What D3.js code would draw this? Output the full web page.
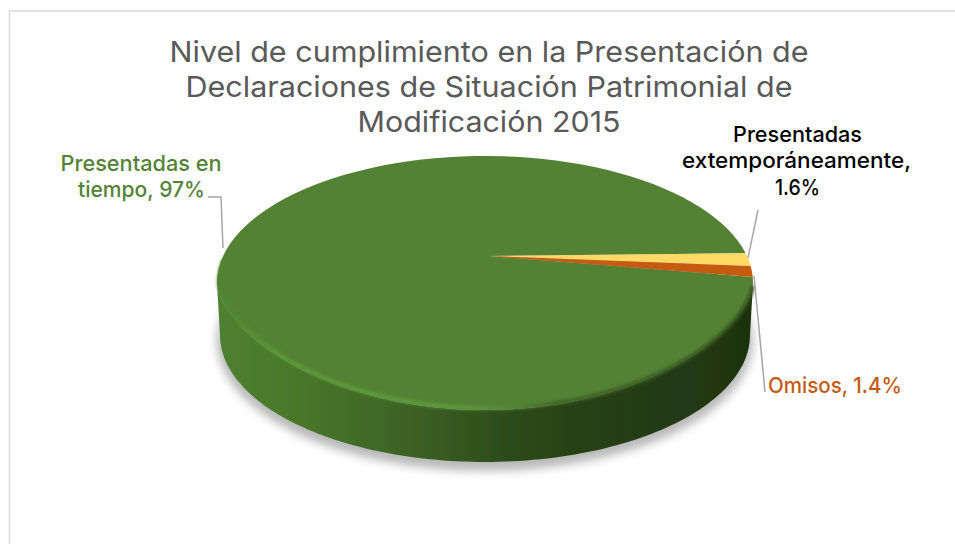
<!DOCTYPE html>
<html><head><meta charset="utf-8">
<script src="https://cdn.jsdelivr.net/npm/d3@7/dist/d3.min.js"></script>
<style>html,body{margin:0;padding:0;background:#fff;overflow:hidden}svg{display:block}text{font-family:Inter,Lato,sans-serif}</style>
</head><body>
<svg id="c" width="955" height="544"></svg>
<script>
const categories = ["Presentadas extemporáneamente", "Omisos", "Presentadas en tiempo"];
const values = [1.6, 1.4, 97];
const sliceColors = ["#ffd966", "#c55a11", "#548235"];
const titleLines = ["Nivel de cumplimiento en la Presentación de", "Declaraciones de Situación Patrimonial de", "Modificación 2015"];
const labelLinesGreen = ["Presentadas en", "tiempo, 97%"];
const labelLinesYellow = ["Presentadas", "extemporáneamente,", "1.6%"];
const labelLinesOrange = ["Omisos, 1.4%"];

const svg = d3.select("#c");
const defs = svg.append("defs");
const TAU = 2 * Math.PI;

// geometry of the tilted pie; the near half of the top face is flattened by perspective
const cx = 485, cy = 283, rx = 268, ry = 127, depth = 52, bottomRx = 265, nearPower = 1.22;
const apex = [489, 256];
const rim = a => {
  const c = Math.cos(a);
  return [cx + rx * Math.sin(a), cy - ry * (c < 0 ? -Math.pow(-c, nearPower) : c)];
};
const rimB = a => [cx + bottomRx * Math.sin(a), cy + depth - ry * Math.cos(a)];
const line = d3.line();
const sample = (a0, a1, f) => d3.range(0, 121).map(i => f(a0 + (a1 - a0) * i / 120));

function blur(id, s) {
  defs.append("filter").attr("id", id).attr("x", "-10%").attr("y", "-20%").attr("width", "120%").attr("height", "140%")
    .append("feGaussianBlur").attr("stdDeviation", s);
}
blur("shadow", 5); blur("soft", 1.4); blur("edge", 0.5);

function grad(id, stops) {
  const g = defs.append("linearGradient").attr("id", id).attr("gradientUnits", "userSpaceOnUse")
    .attr("x1", cx - rx).attr("x2", cx + rx).attr("y1", 0).attr("y2", 0);
  stops.forEach(([o, c]) => g.append("stop").attr("offset", o).attr("stop-color", c));
}
grad("side", [[0, "#4f8030"], [0.12, "#4a7a2c"], [0.28, "#426a27"], [0.42, "#375b21"], [0.55, "#2c4a1a"], [0.7, "#263f15"], [0.88, "#223912"], [1, "#1e3210"]]);
grad("bevel", [[0, "#4f8230"], [0.12, "#5c9a38"], [0.45, "#5f9a40"], [0.54, "#56883a"], [0.64, "#3f6327"], [1, "#37571f"]]);

// frame
svg.append("path").attr("d", line([[9.5, 544], [9.5, 11], [955, 11]])).attr("fill", "none").attr("stroke", "#d9d9d9").attr("stroke-width", 1.5);

// shadow
svg.append("ellipse").attr("cx", cx).attr("cy", cy + depth + 6).attr("rx", bottomRx + 3).attr("ry", ry + 3)
  .attr("fill", "#b8b8b8").attr("filter", "url(#shadow)");

// side wall
const sideTop = sample(TAU / 4, TAU * 3 / 4, rim);
const sideBot = sample(TAU * 3 / 4, TAU / 4, rimB);
svg.append("path").attr("d", line(sideTop.concat(sideBot)) + "Z").attr("fill", "url(#side)").attr("filter", "url(#edge)");

// top face
const startDeg = 76.5;
const pie = d3.pie().sort(null).startAngle(startDeg * Math.PI / 180).endAngle(startDeg * Math.PI / 180 + TAU);
const arcs = pie(values);
const order = [2, 0, 1];
svg.append("g").selectAll("path").data(order.map(i => ({ arc: arcs[i], color: sliceColors[i], name: categories[i] }))).join("path")
  .attr("d", d => line([apex].concat(sample(d.arc.startAngle, d.arc.endAngle, rim))) + "Z")
  .attr("fill", d => d.color);

// rounded bevel along the front rim: inset and lit on the left, flush and dark on the right
svg.append("path").attr("d", line(sample(TAU * 0.78, TAU / 4 + 0.04, a => {
    const p = rim(a), s = Math.sin(a), k = s > 0 ? s : 0;
    return [cx + (p[0] - cx) * (0.992 + 0.008 * k), cy + (p[1] - cy) * (0.985 + 0.015 * k)];
  }))).attr("fill", "none").attr("stroke", "url(#bevel)").attr("stroke-width", 4).attr("filter", "url(#soft)");

// leader lines
const leader = [
  [[208, 197], [221, 197], [223, 248]],
  [[758, 210], [748, 258]],
  [[754, 276], [765, 392]]
];
svg.append("g").selectAll("path").data(leader).join("path").attr("d", d => line(d))
  .attr("fill", "none").attr("stroke", "#a6a6a6").attr("stroke-width", 1.5);

// text: anchored at the centre of each line, fitted to its measured width
function block(lines, x, ys, widths, size, color, weight) {
  svg.append("g").selectAll("text").data(lines).join("text")
    .attr("x", (d, i) => Array.isArray(x) ? x[i] : x).attr("y", (d, i) => ys[i])
    .attr("text-anchor", "middle").attr("font-size", size).attr("fill", color).attr("font-weight", weight)
    .attr("textLength", (d, i) => widths[i]).attr("lengthAdjust", "spacingAndGlyphs")
    .text(d => d);
}
block(titleLines, 489, [62, 97, 132], [639, 607, 263], 29, "#595959", 400);
block(labelLinesGreen, [141, 141.5], [171, 197], [161, 127], 22, "#548235", 500);
block(labelLinesYellow, [797.5, 796.5, 797.5], [142, 168, 195], [129, 229, 45], 22, "#000000", 500);
block(labelLinesOrange, 835, [393], [134], 22, "#c55a11", 500);
</script>
</body></html>
